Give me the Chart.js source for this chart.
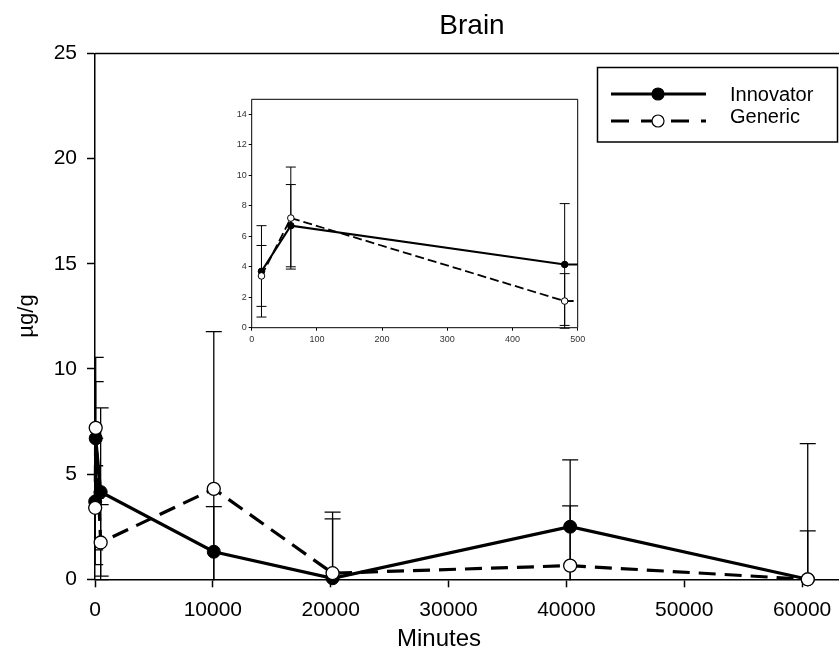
<!DOCTYPE html>
<html>
<head>
<meta charset="utf-8">
<script src="https://cdn.jsdelivr.net/npm/chart.js@4.4.1/dist/chart.umd.min.js"></script>
<style>
  html, body { margin: 0; background: #fff; overflow: hidden; }
  #wrap { position: relative; width: 839px; height: 650px; overflow: hidden; }
  #mainChart { position: absolute; left: 0; top: 0; }
  #insetChart { position: absolute; left: 222px; top: 92px; }
</style>
</head>
<body>
<div id="wrap">
  <canvas id="mainChart" width="847" height="650"></canvas>
  <canvas id="insetChart" width="368" height="255"></canvas>
</div>
<script>
// sampling times (minutes)
const minutes = [15, 60, 480, 10080, 20160, 40320, 60480];

// mean concentration and SD, µg/g
const innovator = [3.7, 6.7, 4.15, 1.31, 0.05, 2.5, 0];
const innovatorSD = [3.0, 2.7, 4.0, 2.15, 2.82, 3.18, 6.45];
const generic = [3.4, 7.2, 1.75, 4.3, 0.29, 0.65, 0];
const genericSD = [2.0, 3.35, 1.8, 7.48, 2.9, 2.84, 2.3];

const mainXTicks = [0, 10000, 20000, 30000, 40000, 50000, 60000];
const mainYTicks = [0, 5, 10, 15, 20, 25];
const insetXTicks = [0, 100, 200, 300, 400, 500];
const insetYTicks = [0, 2, 4, 6, 8, 10, 12, 14];

const FONT = "'Liberation Sans', Arial, sans-serif";

function points(vals) {
    return minutes.map((m, i) => ({ x: m, y: vals[i] }));
}

// vertical error bars with caps, drawn under the lines
const errorBars = {
    id: "errorBars",
    beforeDatasetsDraw(chart, args, opts) {
        const { ctx, chartArea, scales } = chart;
        ctx.save();
        ctx.beginPath();
        ctx.rect(chartArea.left, chartArea.top - 1, chartArea.width, chartArea.height + 2);
        ctx.clip();
        ctx.strokeStyle = "#000";
        ctx.lineWidth = opts.width;
        chart.data.datasets.forEach(ds => {
            ds.data.forEach((p, i) => {
                const err = ds.errors[i];
                const px = scales.x.getPixelForValue(p.x);
                const top = scales.y.getPixelForValue(p.y + err);
                const bot = scales.y.getPixelForValue(p.y - err);
                ctx.beginPath();
                ctx.moveTo(px, top);
                ctx.lineTo(px, bot);
                ctx.moveTo(px - opts.cap / 2, top);
                ctx.lineTo(px + opts.cap / 2, top);
                ctx.moveTo(px - opts.cap / 2, bot);
                ctx.lineTo(px + opts.cap / 2, bot);
                ctx.stroke();
            });
        });
        ctx.restore();
    }
};

const frame = {
    id: "frame",
    afterDraw(chart, args, opts) {
        const { ctx, chartArea } = chart;
        ctx.save();
        ctx.strokeStyle = "#000";
        ctx.lineWidth = opts.width;
        ctx.beginPath();
        if (opts.full) {
            ctx.rect(chartArea.left, chartArea.top, chartArea.width, chartArea.height);
        } else {
            ctx.moveTo(chartArea.left, chartArea.top);
            ctx.lineTo(chartArea.right, chartArea.top);
        }
        ctx.stroke();
        ctx.restore();
    }
};

// titles and legend for the main chart
const decorations = {
    id: "decorations",
    afterDraw(chart) {
        const ctx = chart.ctx;
        ctx.save();
        ctx.fillStyle = "#000";
        ctx.textAlign = "center";
        ctx.textBaseline = "alphabetic";
        ctx.font = "28px " + FONT;
        ctx.fillText("Brain", 472, 34);
        ctx.font = "24px " + FONT;
        ctx.fillText("Minutes", 439, 646);
        ctx.save();
        ctx.translate(27, 316);
        ctx.rotate(-Math.PI / 2);
        ctx.textBaseline = "middle";
        ctx.font = "22px " + FONT;
        ctx.fillText("µg/g", 0, 0);
        ctx.restore();

        // legend
        ctx.fillStyle = "#fff";
        ctx.fillRect(597.5, 67.5, 240, 74.5);
        ctx.strokeStyle = "#000";
        ctx.lineWidth = 1.5;
        ctx.strokeRect(597.5, 67.5, 240, 74.5);
        const rows = [94, 121];
        chart.data.datasets.slice().sort((a, b) => b.order - a.order).forEach((ds, k) => {
            const y = rows[k];
            ctx.setLineDash(ds.legendDash);
            ctx.lineWidth = 3;
            ctx.beginPath();
            ctx.moveTo(611, y);
            ctx.lineTo(706, y);
            ctx.stroke();
            ctx.setLineDash([]);
            ctx.beginPath();
            ctx.arc(658, y, 6, 0, Math.PI * 2);
            ctx.fillStyle = ds.pointBackgroundColor;
            ctx.fill();
            ctx.lineWidth = 1.2;
            ctx.stroke();
            ctx.fillStyle = "#000";
            ctx.textAlign = "left";
            ctx.textBaseline = "middle";
            ctx.font = "20px " + FONT;
            ctx.fillText(ds.label, 730, k === 0 ? 95 : 117);
        });
        ctx.restore();
    }
};

function makeScale(ticks, min, max, cfg) {
    return {
        type: "linear",
        min: min,
        max: max,
        afterBuildTicks: s => { s.ticks = ticks.map(v => ({ value: v })); },
        afterFit: s => {
            cfg.fit(s);
            s.paddingLeft = 0;
            s.paddingRight = 0;
            s.paddingTop = 0;
            s.paddingBottom = 0;
        },
        grid: {
            drawOnChartArea: false,
            color: "#000",
            tickColor: "#000",
            tickLength: cfg.tickLength,
            tickWidth: cfg.tickWidth
        },
        border: { display: cfg.border, color: "#000", width: cfg.tickWidth },
        ticks: {
            color: cfg.color,
            padding: cfg.padding,
            font: { family: FONT, size: cfg.fontSize },
            callback: v => String(v)
        }
    };
}

function datasets(big) {
    return [
        {
            label: "Innovator",
            order: 2,
            data: points(innovator),
            errors: innovatorSD,
            borderColor: "#000",
            borderWidth: big ? 3.2 : 2,
            pointRadius: big ? 6.5 : 3.3,
            pointBackgroundColor: "#000",
            pointBorderColor: "#000",
            pointBorderWidth: 1,
            legendDash: [],
            clip: big ? false : 0
        },
        {
            label: "Generic",
            order: 1,
            data: points(generic),
            errors: genericSD,
            borderColor: "#000",
            borderWidth: big ? 3.2 : 1.8,
            borderDash: big ? [17, 9] : [9, 4],
            pointRadius: big ? 6.5 : 3.3,
            pointBackgroundColor: "#fff",
            pointBorderColor: "#000",
            pointBorderWidth: big ? 1.3 : 1,
            legendDash: [18, 12],
            clip: big ? false : 0
        }
    ];
}

new Chart(document.getElementById("mainChart"), {
    type: "line",
    data: { datasets: datasets(true) },
    options: {
        responsive: false,
        animation: false,
        devicePixelRatio: 1,
        layout: { padding: { top: 53.5, right: 0, left: 0, bottom: 0 } },
        elements: { line: { tension: 0 } },
        plugins: {
            legend: { display: false },
            tooltip: { enabled: false },
            errorBars: { width: 1.3, cap: 16 },
            frame: { width: 1.5, full: false }
        },
        scales: {
            x: makeScale(mainXTicks, 0, 63150, {
                fit: s => { s.height = 70.7; },
                tickLength: 8, tickWidth: 1.5, border: true,
                color: "#000", padding: 10, fontSize: 21
            }),
            y: makeScale(mainYTicks, 0, 25, {
                fit: s => { s.width = 95; },
                tickLength: 8, tickWidth: 1.5, border: true,
                color: "#000", padding: 10, fontSize: 21
            })
        }
    },
    plugins: [errorBars, frame, decorations]
});

new Chart(document.getElementById("insetChart"), {
    type: "line",
    data: { datasets: datasets(false) },
    options: {
        responsive: false,
        animation: false,
        devicePixelRatio: 1,
        layout: { padding: { top: 7.3, right: 12.3, left: 0, bottom: 0 } },
        elements: { line: { tension: 0 } },
        plugins: {
            legend: { display: false },
            tooltip: { enabled: false },
            errorBars: { width: 1, cap: 10 },
            frame: { width: 1, full: true }
        },
        scales: {
            x: makeScale(insetXTicks, 0, 500, {
                fit: s => { s.height = 19.3; },
                tickLength: 3, tickWidth: 1, border: false,
                color: "#333", padding: 3, fontSize: 9
            }),
            y: makeScale(insetYTicks, 0, 15, {
                fit: s => { s.width = 29.7; },
                tickLength: 3, tickWidth: 1, border: false,
                color: "#333", padding: 2, fontSize: 9
            })
        }
    },
    plugins: [errorBars, frame]
});
</script>
</body>
</html>
